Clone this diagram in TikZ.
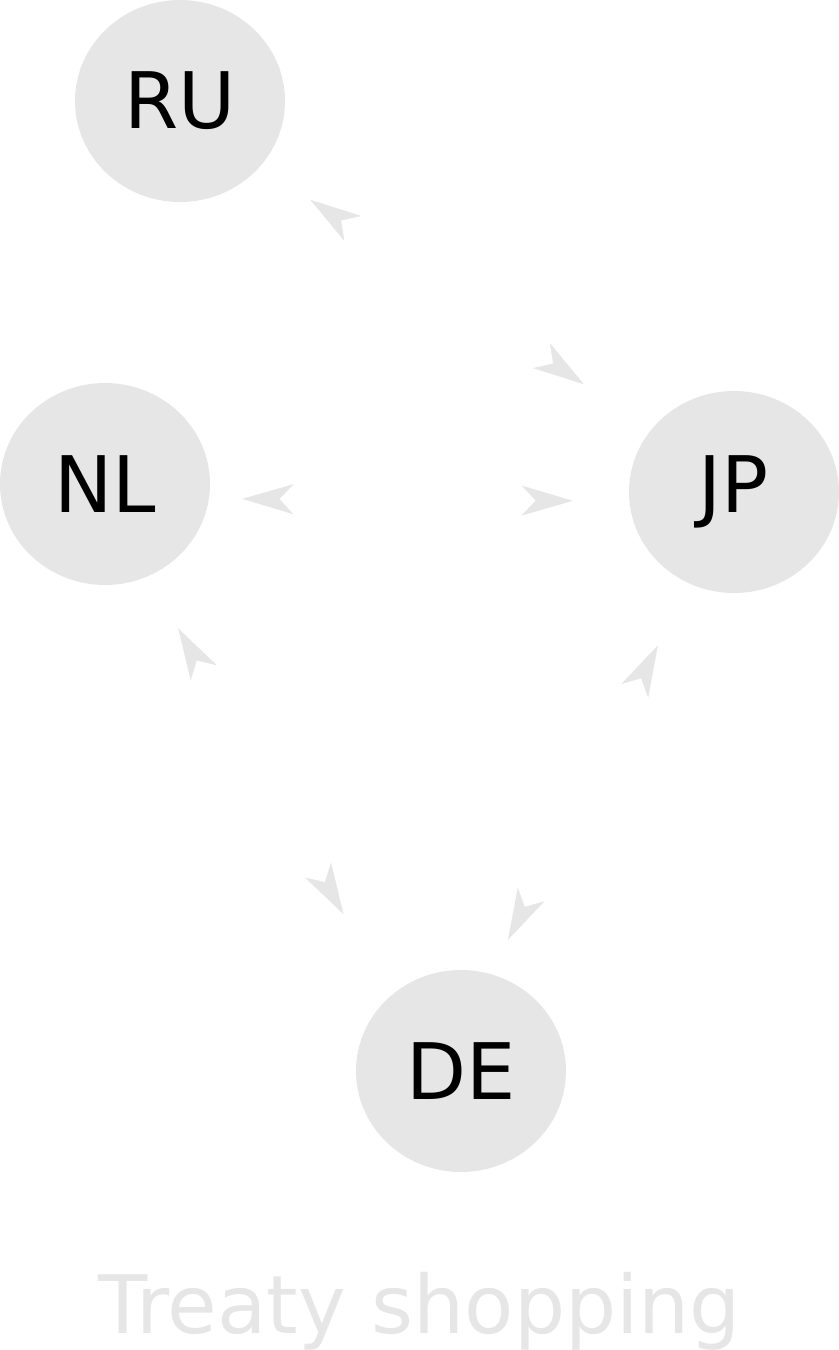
\documentclass[tikz,border=0pt]{standalone}
\usepackage{fontspec}
\setmainfont{DejaVu Sans}
\usetikzlibrary{arrows.meta,shapes.geometric}
\definecolor{lightgrey}{HTML}{E6E6E6}
\begin{document}
\begin{tikzpicture}[x=0.5pt,y=-0.5pt,
  >={Stealth[length=25.5pt,width=15pt,inset=7pt,color=lightgrey]},
  country/.style={ellipse,fill=lightgrey,minimum width=105pt,minimum height=101pt,inner sep=0pt,font=\fontsize{39}{46}\selectfont},
  link/.style={<->,white,line width=0.2pt}]
\useasboundingbox (0,0) rectangle (839,1350);
\node[country] (ru) at (180,101) {RU};
\node[country] (nl) at (105,484) {NL};
\node[country] (jp) at (734,492) {JP};
\node[country] (de) at (461,1071) {DE};
\draw[link,shorten <=30pt,shorten >=40.5pt] (ru.-39.1) -- (jp.143.7);
\draw[link,shorten <=16.6pt,shorten >=28.2pt] (nl.-8.8) -- (jp.-175.6);
\draw[link,shorten <=30pt,shorten >=47pt] (nl.-65.5) -- (de.133.5);
\draw[link,shorten <=34.5pt,shorten >=19pt] (jp.-116) -- (de.73.5);
\node[anchor=base,text=lightgrey,font=\fontsize{40.3}{48}\selectfont] (title) at (420,1333) {Treaty shopping};
\end{tikzpicture}
\end{document}
